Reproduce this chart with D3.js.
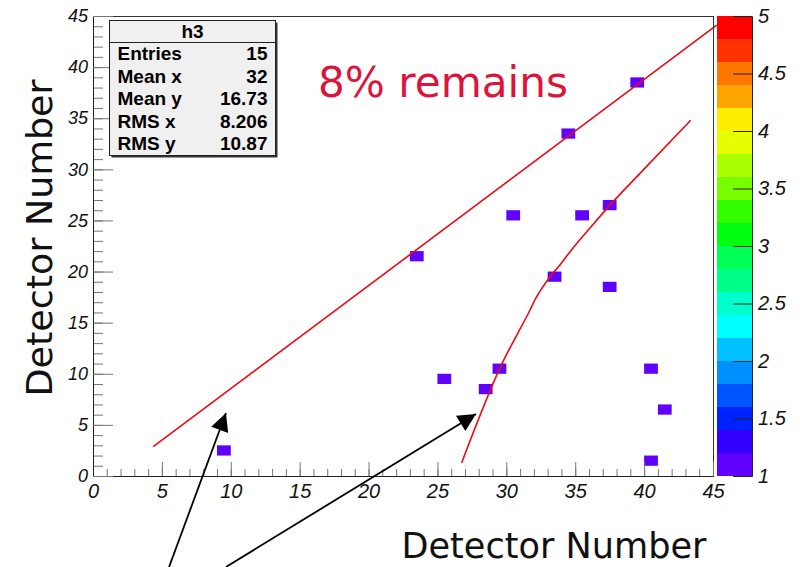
<!DOCTYPE html>
<html>
<head>
<meta charset="utf-8">
<script src="https://cdn.jsdelivr.net/npm/d3@7"></script>
<style>
  body { margin: 0; background: #fff; }
  svg { display: block; }
  .tick text { font-family: "Liberation Sans", Arial, sans-serif; font-style: italic; fill: #111; }
</style>
</head>
<body>
<svg width="800" height="567"></svg>
<script>
// bins filled in the 2D histogram (lower edges, 1x1 bins)
const binX = [9, 23, 25, 28, 29, 30, 33, 34, 35, 37, 37, 39, 40, 41, 40];
const binY = [2, 21, 9, 8, 10, 25, 19, 33, 25, 26, 18, 38, 10, 6, 1];
const binContent = [1, 1, 1, 1, 1, 1, 1, 1, 1, 1, 1, 1, 1, 1, 1];

// colour palette, low to high
const paletteColors = ["#6000ff", "#3300ff", "#0022ff", "#0055ff", "#0090ff",
  "#00c0ff", "#00ffff", "#00ffcc", "#00ff88", "#00ff55",
  "#00ff11", "#33ff00", "#77ff00", "#aaff00", "#e6ff00",
  "#ffee00", "#ffa500", "#ff7700", "#ff3300", "#ff0000"];
const paletteTicks = [1, 1.5, 2, 2.5, 3, 3.5, 4, 4.5, 5];

const xMajorTicks = [0, 5, 10, 15, 20, 25, 30, 35, 40, 45];
const yMajorTicks = [0, 5, 10, 15, 20, 25, 30, 35, 40, 45];

// stats box
const statLabels = ["Entries", "Mean x", "Mean y", "RMS x", "RMS y"];
const statValues = ["15", "32", "16.73", "8.206", "10.87"];

// red cut lines (data units)
const diagonalX = [4.37, 45.27];
const diagonalY = [2.87, 44.1];
const curveX = [26.76, 29.54, 31.72, 32.2, 32.66, 33.17, 33.89, 34.84, 36.07, 37.52, 39.7, 43.38];
const curveY = [1.30, 10.57, 16.24, 17.54, 18.52, 19.5, 20.64, 22.31, 24.26, 26.5, 29.6, 34.8];

// arrows: tail -> tip (data units)
const arrowTailX = [5.52, 9.65];
const arrowTailY = [-8.9, -8.9];
const arrowTipX = [9.65, 27.8];
const arrowTipY = [6.16, 6.07];

const svg = d3.select("svg");
const padLeft = 93, padRight = 713, padTop = 16, padBottom = 476;

const x = d3.scaleLinear().domain([0, 45]).range([padLeft, padRight]);
const y = d3.scaleLinear().domain([0, 45]).range([padBottom, padTop]);
const z = d3.scaleLinear().domain([1, 5]).range([padBottom, padTop]);
const color = d3.scaleQuantize().domain([1, 5]).range(paletteColors);

// frame
svg.append("rect")
  .attr("x", padLeft + 0.5).attr("y", padTop + 0.5)
  .attr("width", padRight - padLeft).attr("height", padBottom - padTop)
  .attr("fill", "none").attr("stroke", "#333").attr("stroke-width", 1);

// bins
svg.append("g").selectAll("rect")
  .data(binX.map((bx, i) => ({ x: bx, y: binY[i], v: binContent[i] })))
  .join("rect")
  .attr("x", d => x(d.x))
  .attr("y", d => y(d.y + 1))
  .attr("width", d => x(d.x + 1) - x(d.x))
  .attr("height", d => y(d.y) - y(d.y + 1))
  .attr("fill", d => color(d.v));

// x axis
const xMinor = svg.append("g").attr("transform", `translate(0,${padBottom})`)
  .call(d3.axisBottom(x).tickValues(d3.range(0, 46, 1)).tickSize(-7).tickFormat(""));
const xMajor = svg.append("g").attr("transform", `translate(0,${padBottom})`)
  .call(d3.axisBottom(x).tickValues(xMajorTicks).tickSize(-14).tickPadding(8));
xMajor.selectAll("text").style("font-size", "20px");

// y axis
const yMinor = svg.append("g").attr("transform", `translate(${padLeft},0)`)
  .call(d3.axisLeft(y).tickValues(d3.range(0, 46, 1)).tickSize(-10).tickFormat(""));
const yMajor = svg.append("g").attr("transform", `translate(${padLeft},0)`)
  .call(d3.axisLeft(y).tickValues(yMajorTicks).tickSize(-20).tickPadding(5));
yMajor.selectAll("text").style("font-size", "18px");

[xMinor, xMajor, yMinor, yMajor].forEach(g => {
  g.selectAll(".tick line").attr("stroke", "#777");
  g.select(".domain").attr("stroke", "#222");
});

// palette
const pal = svg.append("g");
pal.selectAll("rect")
  .data(paletteColors)
  .join("rect")
  .attr("x", 717)
  .attr("width", 35)
  .attr("y", (c, i) => z(1 + (i + 1) * 0.2))
  .attr("height", (c, i) => z(1 + i * 0.2) - z(1 + (i + 1) * 0.2))
  .attr("fill", c => c);
const zAxis = svg.append("g").attr("transform", "translate(752,0)")
  .call(d3.axisRight(z).tickValues(paletteTicks).tickSize(-19).tickPadding(6).tickFormat(d => d));
zAxis.selectAll("text").style("font-size", "20px");
zAxis.selectAll(".tick line").attr("stroke", "#222");
zAxis.select(".domain").attr("stroke", "#222");

// red lines
const line = d3.line().x(d => x(d[0])).y(d => y(d[1]));
svg.append("path")
  .attr("d", line(diagonalX.map((v, i) => [v, diagonalY[i]])))
  .attr("fill", "none").attr("stroke", "#ee0a14").attr("stroke-width", 1.6);
svg.append("path")
  .attr("d", line.curve(d3.curveMonotoneX)(curveX.map((v, i) => [v, curveY[i]])))
  .attr("fill", "none").attr("stroke", "#ee0a14").attr("stroke-width", 1.6);

// stats box
const box = svg.append("g").attr("transform", "translate(109.5,20.5)");
const boxFont = "bold 19px 'Liberation Sans', Arial, sans-serif";
box.append("rect").attr("x", 2).attr("y", 2).attr("width", 166).attr("height", 135).attr("fill", "#333");
box.append("rect").attr("width", 166).attr("height", 135).attr("fill", "#f0f0f0").attr("stroke", "#222");
box.append("line").attr("x1", 0).attr("x2", 166).attr("y1", 22).attr("y2", 22).attr("stroke", "#222");
box.append("text").attr("x", 83).attr("y", 17).attr("text-anchor", "middle")
  .style("font", boxFont).text("h3");
statLabels.forEach((s, i) => {
  box.append("text").attr("x", 8).attr("y", 39.5 + i * 22.5)
    .style("font", boxFont).text(s);
  box.append("text").attr("x", 158).attr("y", 39.5 + i * 22.5).attr("text-anchor", "end")
    .style("font", boxFont).text(statValues[i]);
});

// annotation text
svg.append("text").attr("x", 318).attr("y", 97)
  .attr("textLength", 250).attr("lengthAdjust", "spacingAndGlyphs")
  .style("font", "42px 'Comic Sans MS', 'DejaVu Sans', sans-serif").attr("fill", "#dc143c")
  .text("8% remains");

// axis titles
svg.append("text").attr("x", 554).attr("y", 558).attr("text-anchor", "middle")
  .attr("textLength", 305).attr("lengthAdjust", "spacingAndGlyphs")
  .style("font", "36px 'Comic Sans MS', 'DejaVu Sans', sans-serif").attr("fill", "#111")
  .text("Detector Number");
svg.append("text").attr("transform", "translate(52,238) rotate(-90)").attr("text-anchor", "middle")
  .attr("textLength", 317).attr("lengthAdjust", "spacingAndGlyphs")
  .style("font", "36px 'Comic Sans MS', 'DejaVu Sans', sans-serif").attr("fill", "#111")
  .text("Detector Number");

// arrows
svg.append("defs").append("marker")
  .attr("id", "head").attr("viewBox", "0 0 10 10")
  .attr("refX", 10).attr("refY", 5)
  .attr("markerWidth", 22).attr("markerHeight", 18)
  .attr("markerUnits", "userSpaceOnUse").attr("orient", "auto")
  .append("path").attr("d", "M0,0 L10,5 L0,10 Z").attr("fill", "#000");
svg.append("g").selectAll("line")
  .data(arrowTipX.map((tx, i) => ({ x1: arrowTailX[i], y1: arrowTailY[i], x2: tx, y2: arrowTipY[i] })))
  .join("line")
  .attr("x1", d => x(d.x1)).attr("y1", d => y(d.y1))
  .attr("x2", d => x(d.x2)).attr("y2", d => y(d.y2))
  .attr("stroke", "#000").attr("stroke-width", 1.8)
  .attr("marker-end", "url(#head)");
</script>
</body>
</html>
